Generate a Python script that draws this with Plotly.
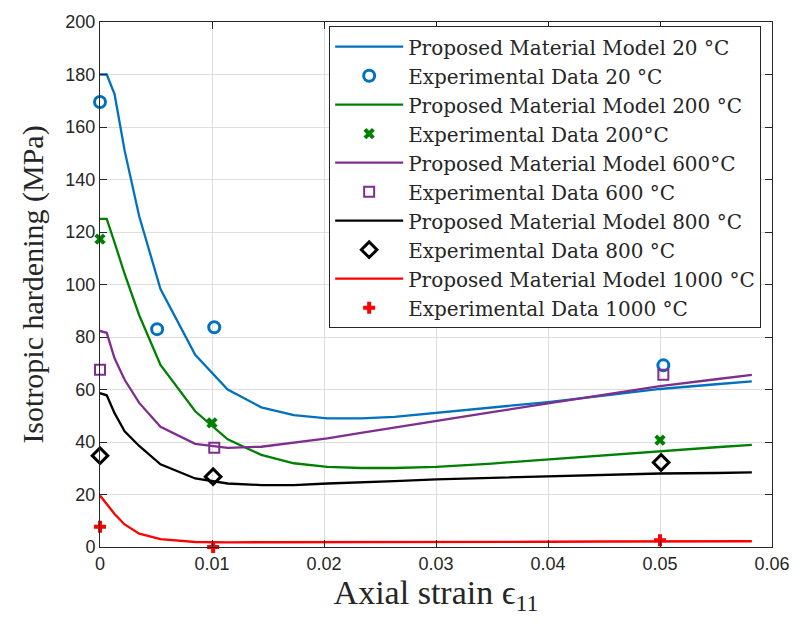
import plotly.graph_objects as go

strain = [0, 0.0006, 0.0013, 0.0022, 0.0035, 0.0054, 0.0085, 0.0114, 0.0144, 0.0173,
          0.0203, 0.0233, 0.0263, 0.03, 0.035, 0.04, 0.045, 0.05, 0.055, 0.0582]
model_20 = [180, 180, 172.5, 151, 126, 98.3, 73.2, 60, 53.2, 50.2,
            49.0, 49.0, 49.6, 51.1, 53.1, 55.2, 57.7, 60.2, 62.0, 63.1]
model_200 = [125, 125, 116, 104, 88.3, 69.4, 51.7, 41.0, 35.1, 31.9,
             30.5, 30.1, 30.1, 30.5, 31.8, 33.4, 35.0, 36.6, 38.0, 38.9]
model_600 = [82.3, 81.6, 71.9, 63.7, 54.9, 45.8, 39.3, 37.8, 38.2, 39.7,
             41.4, 43.5, 45.6, 48.0, 51.4, 54.7, 58.0, 61.3, 63.9, 65.6]
model_800 = [58.6, 57.8, 51.0, 44.1, 38.5, 31.5, 26.1, 24.2, 23.6, 23.6,
             24.2, 24.6, 25.1, 25.8, 26.3, 26.8, 27.4, 28.0, 28.2, 28.4]
model_1000 = [19.6, 16.5, 12.6, 8.6, 5.1, 3.0, 1.9, 1.8, 1.8, 1.8,
              1.8, 1.9, 1.9, 1.9, 2.0, 2.0, 2.1, 2.1, 2.2, 2.2]

exp20_x = [0, 0.0051, 0.0102, 0.0503]
exp20_y = [169.5, 83.0, 83.7, 69.2]
exp200_x = [0, 0.01, 0.05]
exp200_y = [117.3, 47.3, 40.7]
exp600_x = [0, 0.0102, 0.0503]
exp600_y = [67.5, 37.8, 65.6]
exp800_x = [0, 0.0101, 0.0501]
exp800_y = [34.8, 26.8, 32.2]
exp1000_x = [0, 0.0101, 0.05]
exp1000_y = [7.7, 0.0, 2.6]

x_ticks = [0, 0.01, 0.02, 0.03, 0.04, 0.05, 0.06]
x_tick_text = ["0", "0.01", "0.02", "0.03", "0.04", "0.05", "0.06"]
y_ticks = list(range(0, 201, 20))

BLUE = "#0072BD"
GREEN = "#008000"
PURPLE = "#7E2F8E"
BLACK = "#000000"
RED = "#FF0000"

fig = go.Figure()

def model(y, color, name):
    fig.add_trace(go.Scatter(x=strain, y=y, mode="lines", name=name,
                             line=dict(color=color, width=2.3)))

def exp(x, y, color, name, symbol, size, lw, open_=True):
    if open_:
        marker = dict(symbol=symbol, size=size, color="rgba(0,0,0,0)",
                      line=dict(color=color, width=lw))
    else:
        marker = dict(symbol=symbol, size=size, color=color,
                      line=dict(color=color, width=lw))
    fig.add_trace(go.Scatter(x=x, y=y, mode="markers", name=name, marker=marker,
                             cliponaxis=False))

model(model_20, BLUE, "Proposed Material Model 20 °C")
exp(exp20_x, exp20_y, BLUE, "Experimental Data 20 °C", "circle", 11, 3)
model(model_200, GREEN, "Proposed Material Model 200 °C")
exp(exp200_x, exp200_y, GREEN, "Experimental Data 200°C", "x", 10, 0, open_=False)
model(model_600, PURPLE, "Proposed Material Model 600°C")
exp(exp600_x, exp600_y, PURPLE, "Experimental Data 600 °C", "square", 10, 2)
model(model_800, BLACK, "Proposed Material Model 800 °C")
exp(exp800_x, exp800_y, BLACK, "Experimental Data 800 °C", "diamond", 12, 3)
model(model_1000, RED, "Proposed Material Model 1000 °C")
exp(exp1000_x, exp1000_y, RED, "Experimental Data 1000 °C", "cross", 10, 0, open_=False)

serif = "Liberation Serif, DejaVu Serif, serif"
legend_serif = "DejaVu Serif, Liberation Serif, serif"
sans = "Liberation Sans, Arial, sans-serif"

axis_common = dict(
    showline=True, linecolor="#262626", linewidth=1, mirror="allticks",
    ticks="inside", ticklen=7, tickcolor="#262626",
    showgrid=True, gridcolor="#dedede", gridwidth=1, zeroline=False,
    tickfont=dict(family=sans, size=18, color="#262626"),
)

fig.update_xaxes(range=[0, 0.06], tickvals=x_ticks, ticktext=x_tick_text,
                 title=dict(text="Axial strain ϵ<sub>11</sub>",
                            font=dict(family=serif, size=34, color="#262626"),
                            standoff=6),
                 **axis_common)
fig.update_yaxes(range=[0, 200], tickvals=y_ticks,
                 title=dict(text="Isotropic hardening (MPa)",
                            font=dict(family=serif, size=30, color="#262626"),
                            standoff=12),
                 **axis_common)

fig.update_layout(
    width=802, height=624,
    margin=dict(l=100, r=24, t=16, b=77),
    paper_bgcolor="white", plot_bgcolor="white",
    showlegend=True,
    legend=dict(x=0.341, y=0.992, xanchor="left", yanchor="top",
                bgcolor="white", bordercolor="#262626", borderwidth=1,
                font=dict(family=legend_serif, size=20, color="#262626"),
                tracegroupgap=0, itemwidth=68),
)

fig.write_html("out.html")
